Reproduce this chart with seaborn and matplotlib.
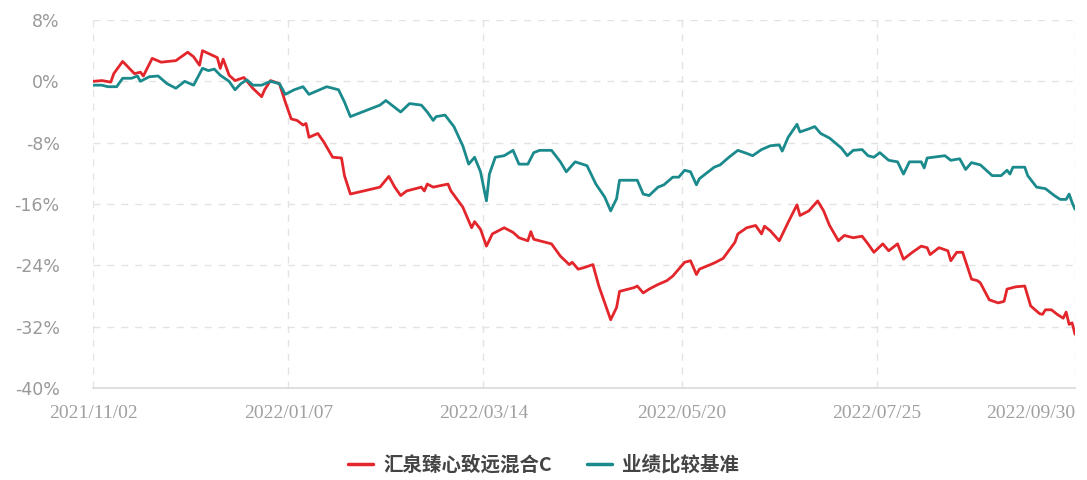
import pandas as pd
import matplotlib
import matplotlib.pyplot as plt
import matplotlib.dates as mdates
import matplotlib.transforms as mtransforms
import seaborn as sns

matplotlib.use('Agg')

fund_name = '汇泉臻心致远混合C'
bench_name = '业绩比较基准'

fund_dates = [
    '2021-11-02', '2021-11-05', '2021-11-08', '2021-11-09', '2021-11-12', '2021-11-16',
    '2021-11-18', '2021-11-19', '2021-11-22', '2021-11-25', '2021-11-30', '2021-12-04',
    '2021-12-06', '2021-12-08', '2021-12-09', '2021-12-14', '2021-12-15', '2021-12-16',
    '2021-12-18', '2021-12-20', '2021-12-23', '2021-12-26', '2021-12-29', '2021-12-30',
    '2022-01-01', '2022-01-04', '2022-01-06', '2022-01-08', '2022-01-10', '2022-01-12',
    '2022-01-13', '2022-01-14', '2022-01-17', '2022-01-19', '2022-01-22', '2022-01-25',
    '2022-01-26', '2022-01-28', '2022-02-07', '2022-02-10', '2022-02-12', '2022-02-14',
    '2022-02-16', '2022-02-21', '2022-02-22', '2022-02-23', '2022-02-25', '2022-03-02',
    '2022-03-03', '2022-03-07', '2022-03-10', '2022-03-11', '2022-03-13', '2022-03-15',
    '2022-03-17', '2022-03-21', '2022-03-24', '2022-03-26', '2022-03-29', '2022-03-30',
    '2022-03-31', '2022-04-06', '2022-04-09', '2022-04-12', '2022-04-13', '2022-04-15',
    '2022-04-17', '2022-04-20', '2022-04-22', '2022-04-24', '2022-04-26', '2022-04-28',
    '2022-04-29', '2022-05-04', '2022-05-05', '2022-05-07', '2022-05-09', '2022-05-12',
    '2022-05-15', '2022-05-17', '2022-05-21', '2022-05-23', '2022-05-25', '2022-05-26',
    '2022-05-31', '2022-06-03', '2022-06-07', '2022-06-08', '2022-06-11', '2022-06-14',
    '2022-06-16', '2022-06-17', '2022-06-19', '2022-06-22', '2022-06-25', '2022-06-28',
    '2022-06-29', '2022-07-02', '2022-07-05', '2022-07-07', '2022-07-09', '2022-07-12',
    '2022-07-14', '2022-07-17', '2022-07-20', '2022-07-22', '2022-07-24', '2022-07-27',
    '2022-07-29', '2022-08-01', '2022-08-03', '2022-08-06', '2022-08-09', '2022-08-11',
    '2022-08-12', '2022-08-15', '2022-08-18', '2022-08-19', '2022-08-21', '2022-08-23',
    '2022-08-26', '2022-08-28', '2022-08-29', '2022-09-01', '2022-09-04', '2022-09-06',
    '2022-09-07', '2022-09-10', '2022-09-13', '2022-09-15', '2022-09-18', '2022-09-19',
    '2022-09-20', '2022-09-22', '2022-09-24', '2022-09-26', '2022-09-27', '2022-09-28',
    '2022-09-29', '2022-09-30',
]
fund_values = [
    0.0, 0.1, -0.1, 1.0, 2.6, 1.0,
    1.2, 0.7, 3.0, 2.5, 2.7, 3.8,
    3.2, 2.1, 4.0, 3.1, 1.7, 2.9,
    0.8, 0.1, 0.5, -0.9, -2.0, -1.1,
    0.1, -0.3, -2.7, -4.9, -5.1, -5.7,
    -5.5, -7.3, -6.8, -7.9, -9.9, -10.0,
    -12.3, -14.7, -13.8, -12.4, -13.8, -14.9,
    -14.3, -13.8, -14.3, -13.4, -13.8, -13.4,
    -14.3, -16.4, -19.1, -18.3, -19.3, -21.5,
    -19.9, -19.1, -19.7, -20.4, -20.8, -19.6,
    -20.6, -21.2, -22.8, -23.9, -23.6, -24.5,
    -24.3, -23.9, -26.7, -28.9, -31.1, -29.5,
    -27.4, -26.9, -26.7, -27.6, -27.1, -26.5,
    -26.0, -25.4, -23.6, -23.4, -25.2, -24.5,
    -23.7, -23.1, -21.0, -19.9, -19.1, -18.8,
    -19.9, -18.9, -19.5, -20.8, -18.4, -16.1,
    -17.5, -16.9, -15.6, -16.9, -18.8, -20.8,
    -20.1, -20.4, -20.2, -21.2, -22.3, -21.2,
    -22.1, -21.2, -23.2, -22.3, -21.5, -21.7,
    -22.6, -21.7, -22.1, -23.4, -22.3, -22.3,
    -25.8, -26.0, -26.3, -28.5, -28.9, -28.7,
    -27.1, -26.8, -26.7, -29.3, -30.3, -30.4,
    -29.8, -29.8, -30.4, -30.9, -30.1, -31.7,
    -31.5, -33.0,
]

bench_dates = [
    '2021-11-02', '2021-11-05', '2021-11-07', '2021-11-10', '2021-11-12', '2021-11-15',
    '2021-11-17', '2021-11-18', '2021-11-21', '2021-11-24', '2021-11-27', '2021-11-30',
    '2021-12-03', '2021-12-06', '2021-12-09', '2021-12-11', '2021-12-13', '2021-12-15',
    '2021-12-18', '2021-12-20', '2021-12-22', '2021-12-24', '2021-12-26', '2021-12-29',
    '2022-01-01', '2022-01-04', '2022-01-06', '2022-01-09', '2022-01-12', '2022-01-14',
    '2022-01-20', '2022-01-24', '2022-01-26', '2022-01-28', '2022-02-07', '2022-02-09',
    '2022-02-14', '2022-02-17', '2022-02-21', '2022-02-23', '2022-02-25', '2022-02-26',
    '2022-03-01', '2022-03-04', '2022-03-07', '2022-03-09', '2022-03-11', '2022-03-13',
    '2022-03-15', '2022-03-16', '2022-03-18', '2022-03-21', '2022-03-24', '2022-03-26',
    '2022-03-29', '2022-03-31', '2022-04-02', '2022-04-06', '2022-04-08', '2022-04-09',
    '2022-04-11', '2022-04-14', '2022-04-18', '2022-04-21', '2022-04-24', '2022-04-26',
    '2022-04-28', '2022-04-29', '2022-05-05', '2022-05-07', '2022-05-09', '2022-05-12',
    '2022-05-14', '2022-05-17', '2022-05-19', '2022-05-21', '2022-05-23', '2022-05-25',
    '2022-05-26', '2022-05-31', '2022-06-02', '2022-06-05', '2022-06-08', '2022-06-11',
    '2022-06-13', '2022-06-16', '2022-06-19', '2022-06-22', '2022-06-23', '2022-06-25',
    '2022-06-28', '2022-06-29', '2022-07-02', '2022-07-04', '2022-07-06', '2022-07-09',
    '2022-07-13', '2022-07-15', '2022-07-17', '2022-07-20', '2022-07-22', '2022-07-24',
    '2022-07-26', '2022-07-29', '2022-08-01', '2022-08-03', '2022-08-05', '2022-08-09',
    '2022-08-10', '2022-08-11', '2022-08-17', '2022-08-19', '2022-08-22', '2022-08-24',
    '2022-08-26', '2022-08-29', '2022-09-02', '2022-09-05', '2022-09-07', '2022-09-08',
    '2022-09-09', '2022-09-13', '2022-09-14', '2022-09-17', '2022-09-20', '2022-09-23',
    '2022-09-25', '2022-09-27', '2022-09-28', '2022-09-29', '2022-09-30',
]
bench_values = [
    -0.5, -0.5, -0.7, -0.7, 0.4, 0.4,
    0.7, 0.0, 0.6, 0.7, -0.3, -0.9,
    0.0, -0.5, 1.7, 1.4, 1.6, 0.8,
    0.0, -1.1, -0.3, 0.2, -0.5, -0.5,
    0.0, -0.3, -1.7, -1.1, -0.7, -1.7,
    -0.7, -1.1, -2.7, -4.6, -3.1, -2.5,
    -4.0, -2.9, -3.1, -4.0, -5.1, -4.6,
    -4.4, -5.9, -8.4, -10.8, -9.9, -11.8,
    -15.6, -12.1, -9.9, -9.7, -9.0, -10.8,
    -10.8, -9.3, -9.0, -9.0, -10.0, -10.5,
    -11.8, -10.5, -11.0, -13.4, -15.1, -16.9,
    -15.3, -12.9, -12.9, -14.7, -14.9, -13.8,
    -13.5, -12.5, -12.5, -11.6, -11.8, -13.5,
    -12.7, -11.2, -10.9, -9.9, -9.0, -9.4,
    -9.7, -8.9, -8.4, -8.3, -9.1, -7.3,
    -5.6, -6.6, -6.2, -5.9, -6.8, -7.4,
    -8.7, -9.7, -9.0, -8.9, -9.7, -9.9,
    -9.3, -10.3, -10.5, -12.1, -10.5, -10.5,
    -11.3, -10.0, -9.7, -10.3, -10.1, -11.5,
    -10.6, -10.9, -12.3, -12.3, -11.6, -12.1,
    -11.2, -11.2, -12.3, -13.8, -14.0, -14.9,
    -15.4, -15.4, -14.7, -15.8, -16.7,
]

tick_dates = ['2021-11-02', '2022-01-07', '2022-03-14', '2022-05-20', '2022-07-25', '2022-09-30']
y_ticks = [-40, -32, -24, -16, -8, 0, 8]

sns.set_style('white')
plt.rcParams['font.family'] = ['Noto Sans CJK SC', 'DejaVu Sans']

df = pd.concat([
    pd.DataFrame({'date': pd.to_datetime(fund_dates), 'value': fund_values, 'series': fund_name}),
    pd.DataFrame({'date': pd.to_datetime(bench_dates), 'value': bench_values, 'series': bench_name}),
])

fig = plt.figure(figsize=(10.87, 4.8), dpi=100)
ax = fig.add_axes([0.0856, 0.1917, 0.9034, 0.7666])

sns.lineplot(data=df, x='date', y='value', hue='series', hue_order=[fund_name, bench_name],
             palette=['#e3262b', '#1b8a8c'], linewidth=2.0, ax=ax, estimator=None, sort=True)

ticks = pd.to_datetime(tick_dates)
ax.set_xlim(ticks[0], ticks[-1])
ax.set_ylim(-40, 8)
ax.set_xticks(ticks)
ax.xaxis.set_major_formatter(mdates.DateFormatter('%Y/%m/%d'))
ax.set_yticks(y_ticks)
ax.set_yticklabels([f'{v}%' for v in y_ticks])
ax.set_xlabel('')
ax.set_ylabel('')

xlabels = ax.get_xticklabels()
for lab in xlabels:
    lab.set_fontfamily(['Liberation Serif', 'DejaVu Serif'])
    lab.set_fontsize(14)
    lab.set_color('#a0a0a0')
# last date label sits inside the right edge
xlabels[-1].set_horizontalalignment('right')
xlabels[-1].set_transform(xlabels[-1].get_transform() +
                          mtransforms.ScaledTranslation(4 / 100, 0, fig.dpi_scale_trans))
for lab in ax.get_yticklabels():
    lab.set_fontfamily(['DejaVu Sans'])
    lab.set_fontsize(12.5)
    lab.set_color('#999999')
ax.tick_params(axis='x', length=0, pad=12)
ax.tick_params(axis='y', length=0, pad=24)

ax.grid(True, which='major', axis='both', color='#e3e3e3', linestyle=(0, (5, 5)), linewidth=1)
for side in ['top', 'right', 'left']:
    ax.spines[side].set_visible(False)
ax.spines['bottom'].set_color('#d9d9d9')
ax.spines['bottom'].set_linewidth(1.2)

ax.get_legend().remove()
handles, labels = ax.get_legend_handles_labels()
leg = fig.legend(handles, labels, loc='center', bbox_to_anchor=(0.5, 0.032), ncol=2,
                 frameon=False, handlelength=1.3, handletextpad=0.5, columnspacing=1.8,
                 prop={'family': ['Noto Sans CJK SC', 'DejaVu Sans'], 'size': 14, 'weight': 'bold'})
for t in leg.get_texts():
    t.set_color('#444444')
for h in leg.get_lines():
    h.set_linewidth(2.5)

fig.savefig('out.png', dpi=100)
plt.close(fig)
